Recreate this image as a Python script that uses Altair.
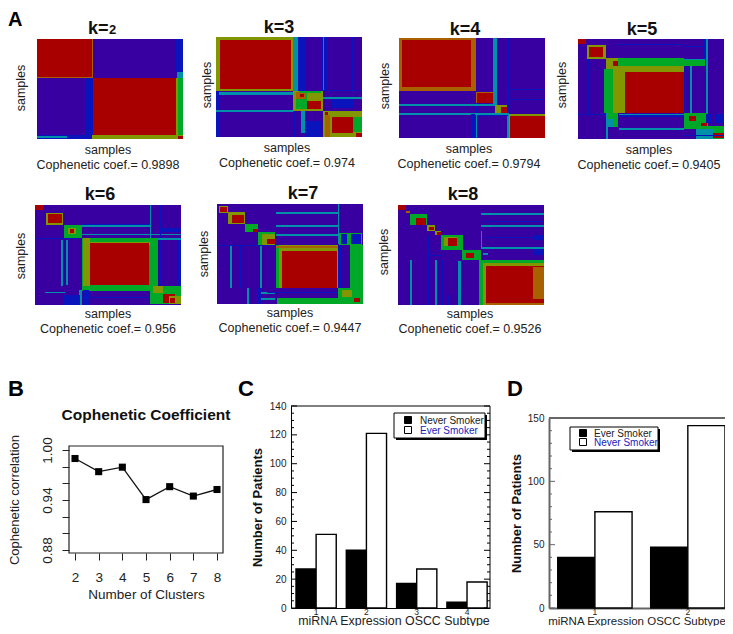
import altair as alt
import pandas as pd

# consensus-matrix blocks: (x0, x1, y0, y1, level), painted in order
K2 = [(0,146,0,100,"P"),(0,56,0,39,"A"),(0,55,0,38,"R"),(56,139,39,96,"R"),(48,56,39,96,"B"),
      (139,146,0,33,"B"),(140,146,33,39,"T"),(139,146,39,96,"G"),(139,141,39,96,"O"),(0,55,96,100,"B"),(55,139,96,100,"O"),(0,30,97,99,"T"),(139,146,96,100,"O"),(141,146,97,100,"R")]
K3 = [(0,146,0,100,"P"),(0,77,0,54,"O"),(4,75,3,52,"R"),(77,82,0,54,"T"),(82,90,0,54,"B"),(106,112,0,54,"B"),(107,108,0,54,"T"),(136,138,0,54,"B"),
      (0,3,54,100,"B"),(3,77,55,58,"T"),(0,77,73,75,"T"),(77,107,54,74,"O"),(80,91,56,72,"G"),(91,105,64,72,"R"),(80,90,55,62,"A"),(84,88,57,60,"R"),(83,105,54,56,"G"),
      (107,146,74,100,"O"),(109,114,78,100,"A"),(116,137,80,96,"R"),(137,146,80,95,"G"),(140,146,96,100,"R"),(109,112,75,78,"R"),
      (85,89,74,96,"T"),(90,105,84,100,"B"),(77,79,74,100,"B"),(107,146,60,62,"T"),(115,138,62,71,"B"),(107,146,53,54,"B")]
K4 = [(0,146,0,100,"P"),(0,77,0,53,"A"),(3,72,2,49,"R"),(76,78,53,100,"B"),(77,95,54,65,"A"),(78,95,55,65,"R"),(94,98,0,68,"T"),(0,96,66,68,"T"),
      (96,108,67,76,"O"),(102,108,69,75,"R"),(0,110,75,77,"T"),(108,110,0,75,"B"),(108,110,76,100,"T"),(110,146,76,100,"O"),(111,146,78,100,"R"),
      (110,146,51,52,"B"),(110,146,61,62,"B"),(72,76,76,100,"B"),(77,78,76,100,"T"),(78,109,77,78,"B")]
K5 = [(0,146,0,100,"P"),(0,8,0,5,"R"),(9,28,6,20,"O"),(11,25,8,18,"R"),(28,46,19,30,"O"),(35,40,22,27,"R"),(26,41,30,74,"G"),(35,41,30,74,"O"),
      (41,47,27,74,"O"),(40,106,19,27,"G"),(40,106,27,33,"O"),(47,106,33,74,"R"),(106,127,20,27,"G"),(106,127,20,21,"T"),
      (28,40,74,88,"G"),(28,36,80,88,"T"),(41,106,75,76,"T"),(41,106,89,91,"T"),(41,106,76,78,"B"),(106,130,74,90,"G"),(111,118,77,82,"R"),(123,129,84,88,"R"),
      (118,146,87,100,"G"),(118,135,90,100,"T"),(135,146,94,99,"R"),(128,146,75,84,"B"),(134,137,75,84,"P"),
      (106,108,27,74,"B"),(112,114,27,74,"T"),(128,130,0,74,"T"),(10,11,20,75,"B"),(28,30,74,100,"T"),(0,28,75,76,"B"),(40,106,5,6,"B"),(106,127,7,8,"B"),(126,127,0,20,"B"),(106,146,96,97,"B")]
K6 = [(0,146,0,100,"P"),(0,8,0,5,"R"),(11,29,8,20,"O"),(13,27,9,18,"R"),(29,47,20,33,"G"),(33,41,23,29,"O"),(35,39,24,28,"R"),(47,115,33,86,"G"),(48,55,33,81,"O"),(48,115,37,40,"O"),(55,114,38,80,"R"),
      (115,123,33,81,"G"),(115,146,81,99,"G"),(128,140,89,98,"R"),(118,128,81,88,"O"),(134,146,91,99,"O"),(135,140,93,98,"R"),
      (47,115,20,22,"T"),(47,115,19,20,"B"),(47,146,29,30,"T"),(124,146,23,27,"B"),(123,146,33,35,"T"),(124,126,35,81,"B"),(143,146,35,81,"B"),
      (26,28,35,81,"T"),(31,33,35,80,"T"),(44,47,85,100,"T"),(48,54,85,100,"B"),(47,115,92,93,"B"),(10,30,87,88,"T"),(28,45,90,100,"B"),(28,29,0,33,"B"),(0,42,33,34,"B"),(115,116,0,33,"T"),(125,126,0,33,"B")]
K7 = [(0,146,0,100,"P"),(2,11,2,9,"O"),(3,10,3,8,"R"),(11,28,8,20,"O"),(15,27,11,19,"R"),(28,41,20,28,"G"),(36,41,25,28,"R"),(41,58,28,41,"G"),(45,58,30,41,"O"),(50,58,35,40,"R"),
      (59,121,41,84,"O"),(59,62,41,84,"G"),(65,120,47,84,"R"),(59,121,42,44,"A"),(121,146,84,100,"G"),(133,146,41,84,"G"),(121,124,41,84,"B"),(128,132,88,91,"R"),(137,143,94,98,"R"),(125,135,86,93,"O"),
      (60,121,94,100,"G"),(122,145,29,41,"G"),(124,130,30,40,"B"),(134,144,30,40,"B"),(41,58,88,90,"T"),(41,58,94,96,"T"),(30,32,84,100,"T"),(40,44,84,100,"B"),(59,121,8,10,"T"),(59,121,21,23,"T"),(59,121,30,32,"T"),(121,122,0,40,"T"),(13,15,41,84,"T"),(43,45,41,84,"T"),(22,24,41,84,"B"),(0,59,41,42,"B"),(50,121,88,89,"B")]
K8 = [(0,146,0,100,"P"),(0,8,0,5,"R"),(8,12,6,8,"A"),(12,29,9,20,"G"),(18,28,13,20,"R"),(29,37,20,26,"O"),(31,36,22,25,"R"),(37,43,26,30,"O"),(39,43,27,30,"R"),(43,65,30,45,"G"),(46,59,32,41,"O"),(50,59,33,41,"R"),(64,83,45,55,"G"),(68,76,48,53,"R"),
      (81,146,55,100,"G"),(85,146,58,100,"O"),(88,146,61,98,"R"),(135,146,62,94,"A"),(88,146,98,100,"A"),
      (83,146,8,10,"T"),(83,146,20,22,"T"),(83,146,42,44,"T"),(135,146,30,35,"B"),(135,146,44,50,"B"),(12,14,55,100,"T"),(29,31,30,100,"B"),(60,63,56,100,"T"),(83,84,26,42,"T"),(37,39,55,100,"T"),(44,45,55,100,"B"),(30,43,50,51,"B"),(85,146,16,17,"B"),(85,146,32,33,"B"),(50,52,90,100,"B"),(85,90,48,50,"T")]

LEVELS = ["P","B","T","G","O","A","R"]
LEVEL_COLORS = ["#3800a0","#0a14bc","#0090a8","#00a828","#829600","#a86000","#a80000"]

CLUSTERS = [2,3,4,5,6,7,8]
COPHENETIC = [0.9898,0.974,0.9794,0.9405,0.956,0.9447,0.9526]
C_GROUPS = [1,2,3,4]
C_NEVER = [27,40,17,4]
C_EVER = [51,121,27,18]
D_GROUPS = [1,2]
D_EVER = [40,48]
D_NEVER = [76,144]

FONT = "Liberation Sans"
INK = "#222222"
W, H = 717, 618


def note(text, x, y, size=12.5, bold=False, color=INK, align="left", angle=0):
    """Text at page position (x, y)."""
    return alt.Chart(pd.DataFrame({"t":[text]})).mark_text(
        font=FONT, fontSize=size, fontWeight="bold" if bold else "normal", color=color,
        align=align, baseline="alphabetic", angle=angle
    ).encode(text="t:N", x=alt.value(x-8), y=alt.value(y-8))


def heat(blocks, left, top):
    df = pd.DataFrame(blocks, columns=["x0","x1","y0","y1","v"])
    return alt.Chart(df).mark_rect(strokeWidth=0).encode(
        x=alt.X("x0:Q", scale=alt.Scale(domain=[0,146], range=[left-8,left+138], nice=False, zero=False), axis=None),
        x2="x1:Q",
        y=alt.Y("y0:Q", scale=alt.Scale(domain=[0,100], range=[top-8,top+92], nice=False, zero=False), axis=None),
        y2="y1:Q",
        color=alt.Color("v:N", scale=alt.Scale(domain=LEVELS, range=LEVEL_COLORS), legend=None),
    )


def panel(blocks, left, top, coef, head_x, head_y, sx, sy, xc, base):
    out = [heat(blocks, left, top)]
    if head_x is not None:
        out.append(note(head_x[0], head_x[1], head_y, 18, True, "#111111", align="center"))
    out.append(note("samples", sx, sy, angle=270, align="center"))
    out.append(note("samples", xc, base, align="center"))
    out.append(note("Cophenetic coef.= "+coef, xc, base+15, align="center"))
    return out


layers = []
# k=2 has a smaller digit
layers += panel(K2, 37, 39, "0.9898", None, 34, 25, 88, 108, 154)
layers += [note("k=", 88, 34, 18, True, "#111111"), note("2", 109, 34, 13, True, "#111111")]
layers += panel(K3, 216, 37, "0.974", ("k=3",279), 33, 211, 85, 287, 152)
layers += panel(K4, 399, 38, "0.9794", ("k=4",465), 35, 389, 86, 469, 153)
layers += panel(K5, 578, 39, "0.9405", ("k=5",642), 35, 566, 85, 649, 154)
layers += panel(K6, 35, 205, "0.956", ("k=6",100), 200, 25, 256, 108, 318)
layers += panel(K7, 217, 204, "0.9447", ("k=7",303), 199, 208, 254, 290, 317)
layers += panel(K8, 398, 205, "0.9526", ("k=8",463), 200, 388, 252, 470, 318)

# panel letters
layers += [note("A", 8, 26, 20, True, "#000000"), note("B", 8, 396, 22, True, "#000000"),
           note("C", 238, 396, 22, True, "#000000"), note("D", 507, 396, 22, True, "#000000")]

# B: line panel
bdf = pd.DataFrame({"k":CLUSTERS,"c":COPHENETIC})
bx = alt.Scale(domain=[1.746,8.253], range=[61,215], nice=False, zero=False)
by = alt.Scale(domain=[0.8764,1.0048], range=[545,438], nice=False, zero=False)
b_line = alt.Chart(bdf).mark_line(color="#111111", strokeWidth=1.3).encode(
    x=alt.X("k:Q", scale=bx, axis=alt.Axis(title="Number of Clusters", orient="bottom", values=CLUSTERS, format="d", domain=False, grid=False, offset=-(H-545),
            tickSize=7, tickColor=INK, labelFont=FONT, labelFontSize=13.5, labelColor=INK, labelPadding=10, labelOverlap=False,
            titleFont=FONT, titleFontSize=13.5, titleFontWeight="normal", titleColor=INK, titlePadding=4)),
    y=alt.Y("c:Q", scale=by, axis=alt.Axis(title="Cophenetic correlation", orient="left", values=[0.88,0.90,0.92,0.94,0.96,0.98,1.00], domain=False, grid=False, offset=-61,
            tickSize=7, tickColor=INK, labelFont=FONT, labelFontSize=13.5, labelColor=INK, labelAngle=270, labelAlign="center", labelBaseline="bottom", labelPadding=8,
            labelExpr="indexof(['0.88','0.94','1.00'], format(datum.value,'.2f'))>=0 ? format(datum.value,'.2f') : ''", labelOverlap=False,
            titleFont=FONT, titleFontSize=13, titleFontWeight="normal", titleColor=INK, titlePadding=19)),
)
b_pts = alt.Chart(bdf).mark_square(color="#000000", size=50, opacity=1).encode(
    x=alt.X("k:Q", scale=bx, axis=None), y=alt.Y("c:Q", scale=by, axis=None))
b_frame = alt.Chart(pd.DataFrame({"a":[1.746],"b":[8.253],"c":[0.8764],"d":[1.0048]})).mark_rect(
    fill="transparent", stroke=INK, strokeWidth=1.2).encode(
    x=alt.X("a:Q", scale=bx, axis=None), x2="b:Q", y=alt.Y("c:Q", scale=by, axis=None), y2="d:Q")
layers += [b_frame, b_line, b_pts, note("Cophenetic Coefficient", 146, 420, 15.5, True, "#111111", align="center")]


def legend(x0, x1, y0, y1, rows, sw_x, text_x):
    mk = lambda: alt.Chart(pd.DataFrame({"a":[0]}))
    out = [mk().mark_rect(fill="#000000").encode(x=alt.value(x0+2-8), x2=alt.value(x1+2-8), y=alt.value(y0+2-8), y2=alt.value(y1+2-8)),
           mk().mark_rect(fill="#ffffff", stroke="#000000", strokeWidth=1).encode(x=alt.value(x0-8), x2=alt.value(x1-8), y=alt.value(y0-8), y2=alt.value(y1-8))]
    for label, y, fill, color in rows:
        out.append(mk().mark_square(fill=fill, stroke="#000000", strokeWidth=1, size=49, opacity=1).encode(x=alt.value(sw_x-8), y=alt.value(y-8)))
        out.append(note(label, text_x, y+3.5, 10, False, color))
    return out


def bars(groups, first, second, left, right, top, ymax, majors, minors, stroke, sw, pad_outer, align, title_pad, right_ticks):
    n = len(groups)
    df = pd.DataFrame({"g":groups*2, "s":["first"]*n+["second"]*n, "v":first+second})
    yscale = alt.Scale(domain=[0,ymax], range=[600,top-8], nice=False, zero=True)
    L, R = left-8, right-8
    bar = alt.Chart(df).mark_bar(stroke="#000000", strokeWidth=1.4).encode(
        x=alt.X("g:O", scale=alt.Scale(domain=groups, range=[L,R], paddingInner=0.2, paddingOuter=pad_outer, align=align),
                axis=alt.Axis(title=None, orient="bottom", labelAngle=0, domain=True, domainColor=stroke, domainWidth=sw, grid=False, offset=-(H-600),
                              ticks=False, labelFont=FONT, labelFontSize=8.5, labelColor=INK, labelPadding=-1)),
        xOffset=alt.XOffset("s:N", scale=alt.Scale(domain=["first","second"], paddingInner=0, paddingOuter=0)),
        y=alt.Y("v:Q", scale=yscale,
                axis=alt.Axis(title="Number of Patients", orient="left", values=majors, format="d", domain=True, domainColor=stroke, domainWidth=sw, grid=False, offset=-L,
                              ticks=False, labelFont=FONT, labelFontSize=10, labelColor=INK, labelPadding=5, labelOverlap=False,
                              titleFont=FONT, titleFontSize=13, titleFontWeight="bold", titleColor="#111111", titlePadding=title_pad)),
        fill=alt.Fill("s:N", scale=alt.Scale(domain=["first","second"], range=["#000000","#ffffff"]), legend=None),
    )
    rule = lambda vals, a, b, w=1: alt.Chart(pd.DataFrame({"v":vals})).mark_rule(color=stroke, strokeWidth=w).encode(
        y=alt.Y("v:Q", scale=yscale, axis=None), x=alt.value(a), x2=alt.value(b))
    out = [bar, rule(majors, L, L+6), rule(minors, L, L+3), rule([ymax], L, R, sw)]
    if right_ticks:
        out += [rule(majors, R-6, R), rule(minors, R-3, R),
                alt.Chart(pd.DataFrame({"a":[0],"b":[ymax]})).mark_rule(color=stroke, strokeWidth=1).encode(
                    y=alt.Y("a:Q", scale=yscale, axis=None), y2="b:Q", x=alt.value(R))]
    return out


layers += bars(C_GROUPS, C_NEVER, C_EVER, 291, 490, 406, 140, [0,20,40,60,80,100,120,140],
               [5,10,15,25,30,35,45,50,55,65,70,75,85,90,95,105,110,115,125,130,135],
               "#000000", 1, 0.078, 0.636, 5, True)
layers += legend(394,485,413,438,[("Never Smoker",420,"#000000","#222222"),("Ever Smoker",430,"#ffffff","#2020c0")],408,420)
layers.append(note("miRNA Expression OSCC Subtype", 394, 624.5, 12.4, align="center"))
layers += bars(D_GROUPS, D_EVER, D_NEVER, 549, 725, 418, 150, [0,50,100,150],
               [10,20,30,40,60,70,80,90,110,120,130,140],
               "#666666", 2, 0.047, 1, 4, False)
layers += legend(570,658,427,450,[("Ever Smoker",433,"#000000","#222222"),("Never Smoker",442,"#ffffff","#2020c0")],583,594)
layers.append(note("miRNA Expression OSCC Subtype", 637, 624.5, 11.5, align="center"))

chart = alt.layer(*layers).resolve_scale(x="independent", y="independent", xOffset="independent").properties(
    width=W, height=H, padding=0, autosize=alt.AutoSizeParams(type="none", contains="padding")
).configure_view(strokeWidth=0)
chart.save("out.html", embed_options={"renderer": "svg", "actions": False})
